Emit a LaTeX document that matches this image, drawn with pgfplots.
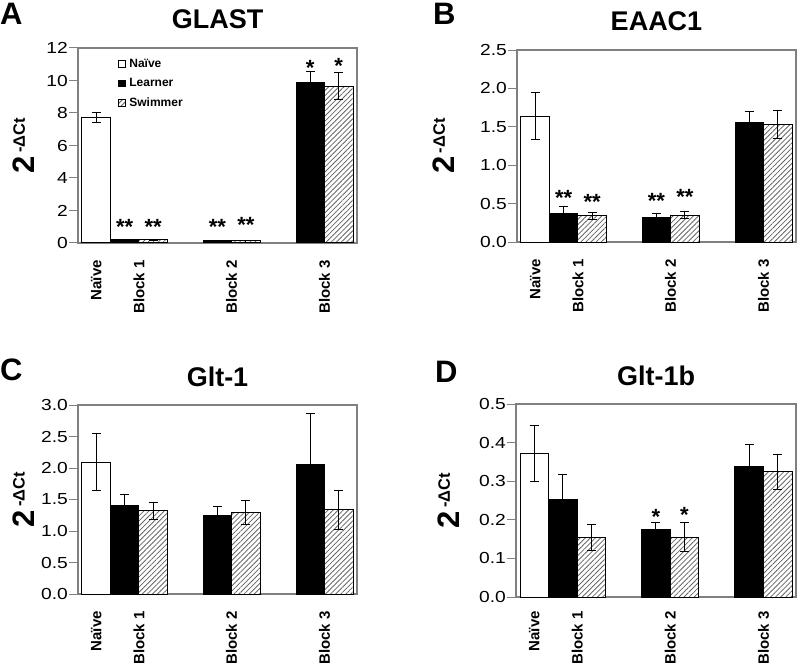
\documentclass[border=0pt]{standalone}
\usepackage{pgfplots}
\pgfplotsset{compat=1.18}
\usepackage{fontspec}
\setmainfont{Liberation Sans}
\newfontfamily\tickfont[FakeStretch=1.2]{Liberation Sans}
\usetikzlibrary{patterns.meta}

\tikzset{
  hatchfill/.style={fill=white, postaction={pattern={Lines[angle=45,distance=3.6pt,line width=0.8pt]}, pattern color=black!60}},
  star/.style={font=\fontsize{22}{22}\selectfont\bfseries, anchor=base, yshift=-12.5pt, inner sep=0pt},
  plabel/.style={font=\fontsize{31}{31}\selectfont\bfseries, anchor=base west, inner sep=0pt},
}

\pgfplotsset{
  panel/.style={
    scale only axis,
    anchor=south west,
    width=279pt,
    xmin=0, xmax=9.79,
    ymin=0,
    axis line style={draw=black!50, line width=1.1pt},
    xtick={0.64,2.14,5.39,8.65},
    xticklabels={Naïve, Block 1, Block 2, Block 3},
    xtick style={draw=none},
    xticklabel style={yshift=#1, rotate=90, anchor=east, inner sep=0pt, font=\fontsize{15}{15}\selectfont\bfseries},
    ytick style={draw=black!50, line width=1pt},
    tick align=outside,
    major tick length=9pt,
    ytick pos=left,
    yticklabel style={font=\tickfont\fontsize{16}{16}\selectfont, inner sep=0pt, xshift=-1pt, /pgf/number format/assume math mode=true},
    ylabel={{\fontsize{31}{31}\selectfont 2}\hspace{3pt}\raisebox{10pt}{\fontsize{16.5}{16.5}\selectfont -ΔCt}},
    ylabel style={font=\bfseries, anchor=south, inner sep=0pt},
    title style={font=\fontsize{27}{27}\selectfont\bfseries, anchor=base, at={(axis description cs:0.5,1)}, yshift=13pt, inner sep=0pt},
    bar width=1, ybar, bar shift=0pt,
    error bars/y dir=both, error bars/y explicit,
    error bars/error bar style={line width=1pt, black},
    error bars/error mark options={rotate=90, black, line width=1pt, mark size=4.5pt},
  },
  panel/.default=-8pt,
  naive/.style={fill=white, draw=black, line width=1pt},
  learner/.style={fill=black, draw=black, line width=1pt},
  swimmer/.style={hatchfill, draw=black, line width=1pt},
  dec/.style={yticklabel style={/pgf/number format/.cd, fixed, fixed zerofill, precision=1}},
}

\begin{document}
\begin{tikzpicture}
\useasboundingbox (0pt,0pt) rectangle (800pt,665pt);

% Panel A
\begin{axis}[panel, at={(78pt,422pt)}, height=195pt, ymax=12, ytick={0,2,...,12},
  title={GLAST},
  ylabel style={at={(axis description cs:-0.154,0.5)}},
  legend style={at={(axis description cs:0.143,0.955)}, anchor=north west, draw=none, fill=none,
    font=\fontsize{12}{12}\selectfont\bfseries, row sep=5.5pt, column sep=2pt, inner sep=0pt},
  legend cell align=left]
\addplot[naive, legend image code/.code={\draw[fill=white, draw=black, line width=0.7pt] (0pt,-3.3pt) rectangle (6.6pt,3.3pt);}]
  coordinates {(0.64,7.7) +- (0,0.3)};
\addplot[learner, legend image code/.code={\draw[fill=black, draw=black, line width=0.7pt] (0pt,-3.3pt) rectangle (6.6pt,3.3pt);}]
  coordinates {(1.64,0.2) +- (0,0.02) (4.89,0.15) +- (0,0.02) (8.15,9.9) +- (0,0.65)};
\addplot[swimmer, legend image code/.code={\draw[hatchfill, draw=black, line width=0.7pt] (0pt,-3.3pt) rectangle (6.6pt,3.3pt);}]
  coordinates {(2.64,0.2) +- (0,0.02) (5.89,0.15) +- (0,0.02) (9.15,9.65) +- (0,0.85)};
\legend{Naïve, Learner, Swimmer}
\node[star] at (axis cs:1.64,1.3) {**};
\node[star] at (axis cs:2.64,1.3) {**};
\node[star] at (axis cs:4.89,1.3) {**};
\node[star] at (axis cs:5.89,1.4) {**};
\node[star] at (axis cs:8.15,11.1) {*};
\node[star] at (axis cs:9.15,11.2) {*};
\end{axis}

% Panel B
\begin{axis}[panel, dec, at={(517pt,423pt)}, height=192pt, ymax=2.5, ytick={0,0.5,...,2.5},
  title={EAAC1},
  ylabel style={at={(axis description cs:-0.222,0.5)}}]
\addplot[naive] coordinates {(0.64,1.64) +- (0,0.31)};
\addplot[learner] coordinates {(1.64,0.37) +- (0,0.09) (4.89,0.32) +- (0,0.045) (8.15,1.56) +- (0,0.135)};
\addplot[swimmer] coordinates {(2.64,0.34) +- (0,0.05) (5.89,0.35) +- (0,0.05) (9.15,1.53) +- (0,0.18)};
\node[star] at (axis cs:1.64,0.64) {**};
\node[star] at (axis cs:2.64,0.59) {**};
\node[star] at (axis cs:4.89,0.60) {**};
\node[star] at (axis cs:5.89,0.65) {**};
\end{axis}

% Panel C
\begin{axis}[panel, dec, at={(78pt,71pt)}, height=189pt, ymax=3.0, ytick={0,0.5,...,3.0},
  title={Glt-1},
  ylabel style={at={(axis description cs:-0.155,0.5)}}]
\addplot[naive] coordinates {(0.64,2.09) +- (0,0.45)};
\addplot[learner] coordinates {(1.64,1.41) +- (0,0.17) (4.89,1.25) +- (0,0.14) (8.15,2.06) +- (0,0.81)};
\addplot[swimmer] coordinates {(2.64,1.32) +- (0,0.13) (5.89,1.29) +- (0,0.19) (9.15,1.335) +- (0,0.31)};
\end{axis}

% Panel D
\begin{axis}[panel=-5pt, dec, at={(516pt,68pt)}, width=280pt, height=193pt, ymax=0.5, ytick={0,0.1,...,0.5},
  title={Glt-1b},
  ylabel style={at={(axis description cs:-0.2,0.5)}}]
\addplot[naive] coordinates {(0.64,0.372) +- (0,0.072)};
\addplot[learner] coordinates {(1.64,0.252) +- (0,0.066) (4.89,0.176) +- (0,0.018) (8.15,0.339) +- (0,0.055)};
\addplot[swimmer] coordinates {(2.64,0.155) +- (0,0.034) (5.89,0.155) +- (0,0.038) (9.15,0.324) +- (0,0.046)};
\node[star] at (axis cs:4.89,0.221) {*};
\node[star] at (axis cs:5.89,0.225) {*};
\end{axis}

\node[plabel] at (0pt,640pt) {A};
\node[plabel] at (433pt,640pt) {B};
\node[plabel] at (0pt,285pt) {C};
\node[plabel] at (435pt,283pt) {D};
\end{tikzpicture}
\end{document}
